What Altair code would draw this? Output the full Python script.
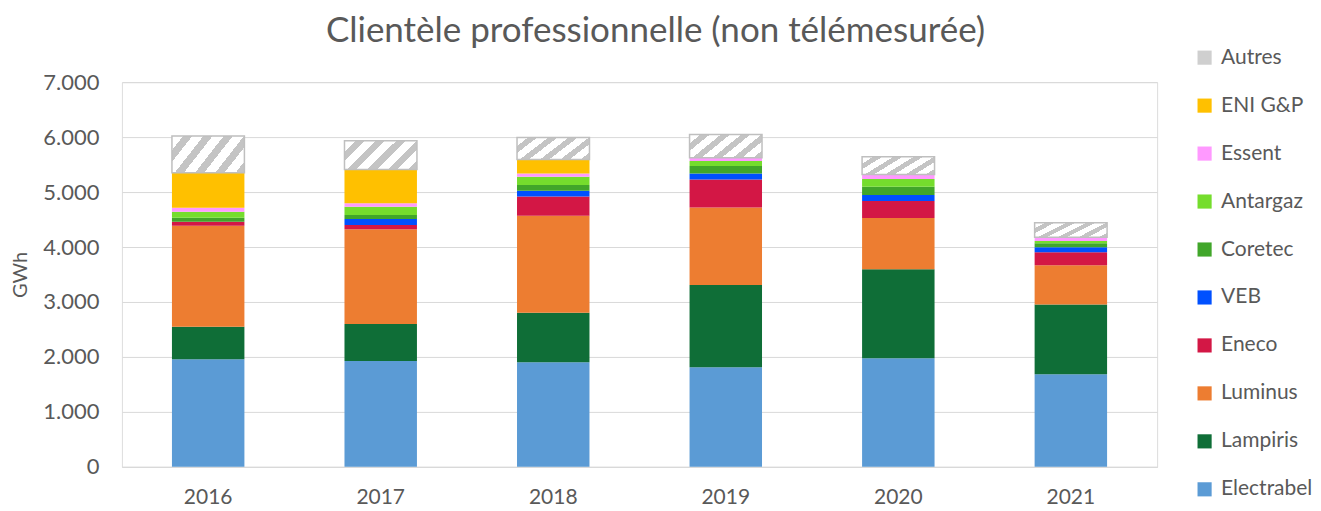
import altair as alt
import pandas as pd

years = ["2016", "2017", "2018", "2019", "2020", "2021"]
suppliers = ["Electrabel", "Lampiris", "Luminus", "Eneco", "VEB", "Coretec",
             "Antargaz", "Essent", "ENI G&P", "Autres"]
electrabel = [1958, 1927, 1903, 1812, 1976, 1685]
lampiris = [593, 673, 903, 1497, 1618, 1267]
luminus = [1837, 1721, 1764, 1412, 933, 715]
eneco = [72, 79, 351, 509, 309, 236]
veb = [0, 109, 103, 109, 109, 91]
coretec = [73, 73, 103, 134, 152, 73]
antargaz = [109, 151, 152, 91, 139, 42]
essent = [73, 61, 60, 60, 85, 67]
eni = [636, 618, 255, 0, 0, 0]
autres = [669, 521, 400, 424, 321, 266]
colors = ["#5B9BD5", "#0F6E37", "#ED7D31", "#D31745", "#0050FF", "#41A62A",
          "#75DD2D", "#FF99FF", "#FFC000", "#CFCFCF"]

series = [electrabel, lampiris, luminus, eneco, veb, coretec, antargaz, essent, eni, autres]
rows = []
for k, (name, vals) in enumerate(zip(suppliers, series)):
    for y, v in zip(years, vals):
        rows.append({"year": y, "supplier": name, "value": v, "order": k})
df = pd.DataFrame(rows)

legend_order = suppliers[::-1]
legend_colors = colors[::-1]

N = 5
stops = []
for i in range(N):
    stops += [
        {"color": "#FFFFFF", "offset": i / N},
        {"color": "#FFFFFF", "offset": (i + 0.55) / N},
        {"color": "#C4C4C4", "offset": (i + 0.55) / N},
        {"color": "#C4C4C4", "offset": (i + 1) / N},
    ]
hatch_fill = {"gradient": "linear", "x1": 0, "y1": 0, "x2": 1.21, "y2": 0.48, "stops": stops}

FONT = "Lato"
GREY = "#595959"

base = alt.Chart(df).transform_stack(
    stack="value", as_=["y0", "y1"], groupby=["year"],
    sort=[alt.SortField("order", order="ascending")]
)

x_enc = alt.X("year:N", title=None,
              scale=alt.Scale(paddingInner=0.58, paddingOuter=0.29),
              axis=alt.Axis(labelAngle=0, ticks=False, domainColor="#D9D9D9",
                            labelFontSize=21, labelColor=GREY, labelPadding=20))
y_enc = alt.Y("y0:Q", title="GWh",
              scale=alt.Scale(domain=[0, 7000], nice=False),
              axis=alt.Axis(values=list(range(0, 7001, 1000)),
                            labelExpr="replace(format(datum.value, ','), ',', '.')",
                            ticks=False, domain=False, gridColor="#D9D9D9",
                            labelFontSize=22, labelColor=GREY, labelPadding=23,
                            titleFontSize=20, titleFontWeight="normal",
                            titleColor=GREY, titlePadding=12))

bars = base.mark_bar().encode(
    x=x_enc,
    y=y_enc,
    y2="y1:Q",
    color=alt.Color("supplier:N",
                    scale=alt.Scale(domain=legend_order, range=legend_colors),
                    legend=alt.Legend(title=None, orient="none", legendX=1073, legendY=-35,
                                      symbolType="square", symbolSize=200,
                                      symbolStrokeWidth=0,
                                      labelFontSize=21, labelColor=GREY, labelFont=FONT,
                                      rowPadding=26, labelOffset=6)),
)

hatch = base.transform_filter("datum.supplier === 'Autres'").mark_bar(
    fill=hatch_fill, stroke="#BFBFBF", strokeWidth=1.5
).encode(x=x_enc, y=y_enc, y2="y1:Q")

chart = alt.layer(bars, hatch).properties(
    width=1036, height=385,
    title=alt.Title("Clientèle professionnelle (non télémesurée)", fontSize=35,
                    fontWeight="normal", color=GREY, font=FONT, offset=-2, dx=16),
    padding={"left": 2, "top": 6, "right": 0, "bottom": 0},
).configure_view(stroke=None).configure(font=FONT)

chart.save("out.html", embed_options={"renderer": "svg", "actions": False})
